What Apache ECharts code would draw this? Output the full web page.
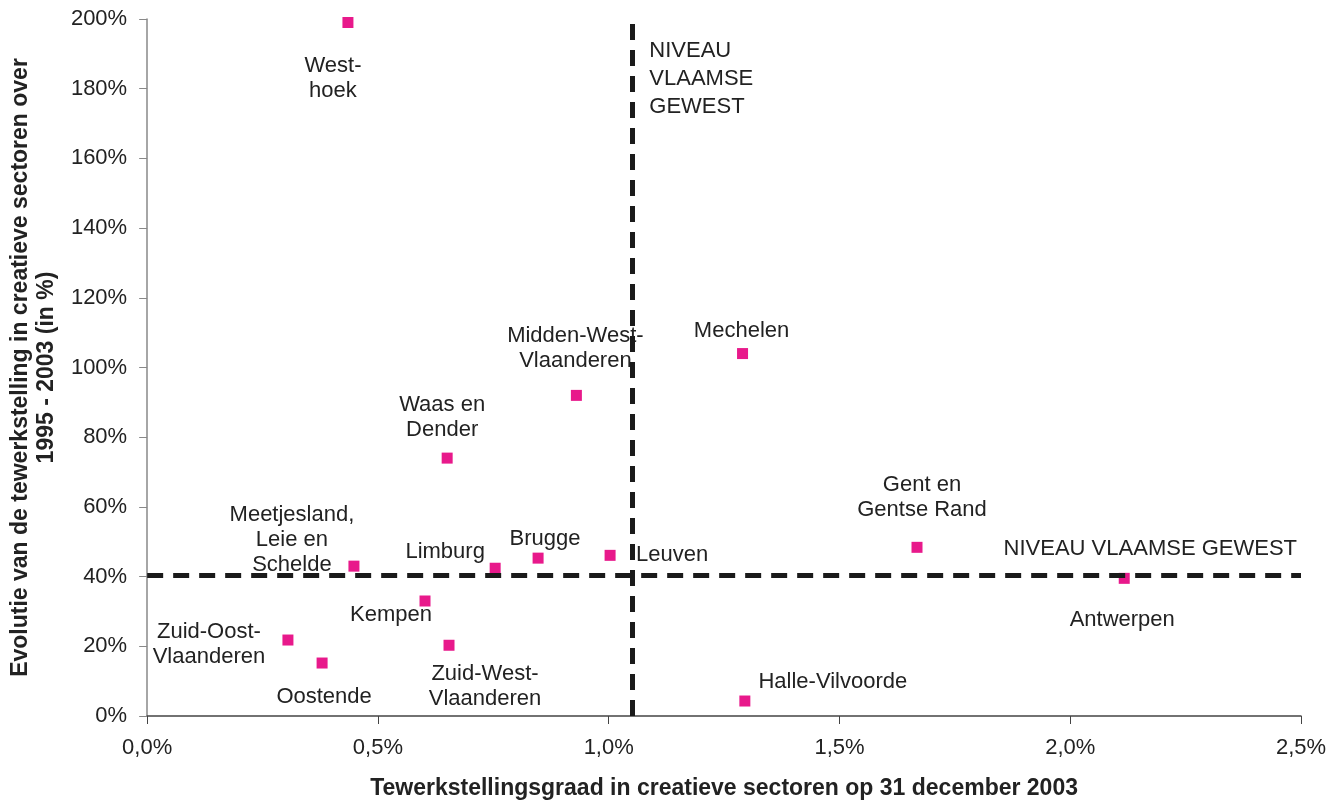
<!DOCTYPE html>
<html>
<head>
<meta charset="utf-8">
<script src="https://cdn.jsdelivr.net/npm/echarts@6/dist/echarts.min.js"></script>
<style>
  html, body { margin: 0; padding: 0; background: #fff; }
  #chart { width: 1342px; height: 805px; }
</style>
</head>
<body>
<div id="chart"></div>
<script>
// regio's
const regions = [
    'West-\nhoek', 'Waas en\nDender', 'Midden-West-\nVlaanderen', 'Mechelen',
    'Gent en\nGentse Rand', 'Antwerpen', 'Halle-Vilvoorde', 'Leuven', 'Brugge',
    'Limburg', 'Meetjesland,\nLeie en\nSchelde', 'Kempen', 'Zuid-West-\nVlaanderen',
    'Zuid-Oost-\nVlaanderen', 'Oostende'
];
// tewerkstellingsgraad 2003 (in %)
const employmentRate = [0.435, 0.65, 0.93, 1.29, 1.668, 2.117, 1.295, 1.003, 0.847, 0.754, 0.448, 0.602, 0.654, 0.305, 0.379];
// evolutie 1995 - 2003 (in %)
const growth = [199, 74, 92, 104, 48.4, 39.5, 4.3, 46.1, 45.3, 42.4, 43, 33, 20.3, 21.8, 15.2];

// niveau Vlaamse Gewest
const flemishRate = 1.049;
const flemishGrowth = 40.4;

const xTicks = { min: 0, max: 2.5, interval: 0.5 };
const yTicks = { min: 0, max: 200, interval: 20 };

// waar elk label t.o.v. het punt staat (px)
const labelOffsets = {
    'West-\nhoek': [-15, 56],
    'Waas en\nDender': [-5, -41],
    'Midden-West-\nVlaanderen': [-1, -47],
    'Mechelen': [-1, -23],
    'Gent en\nGentse Rand': [5, -50],
    'Antwerpen': [-2, 42],
    'Halle-Vilvoorde': [88, -19],
    'Leuven': [62, 0],
    'Brugge': [7, -19],
    'Limburg': [-50, -16],
    'Meetjesland,\nLeie en\nSchelde': [-62, -26],
    'Kempen': [-34, 14],
    'Zuid-West-\nVlaanderen': [36, 41],
    'Zuid-Oost-\nVlaanderen': [-79, 4],
    'Oostende': [2, 34]
};

const chart = echarts.init(document.getElementById('chart'));

const pointData = regions.map((name, i) => ({
    name: name,
    value: [employmentRate[i], growth[i]],
    label: { offset: labelOffsets[name] }
}));

const font = 'Liberation Sans, Arial, sans-serif';

const option = {
    backgroundColor: '#fff',
    animation: false,
    textStyle: { fontFamily: font, color: '#222' },
    grid: { left: 147, right: 41, top: 19, bottom: 88 },
    xAxis: {
        type: 'value',
        min: xTicks.min,
        max: xTicks.max,
        interval: xTicks.interval,
        name: 'Tewerkstellingsgraad in creatieve sectoren op 31 december 2003',
        nameLocation: 'middle',
        nameGap: 61,
        nameTextStyle: { fontSize: 23, fontWeight: 'bold', color: '#222', fontFamily: font },
        axisLine: { onZero: false, lineStyle: { color: '#444', width: 1.5 } },
        axisTick: { show: true, inside: false, length: 8, lineStyle: { color: '#444' } },
        axisLabel: {
            margin: 21, fontSize: 22, color: '#222',
            formatter: v => v.toFixed(1).replace('.', ',') + '%'
        },
        splitLine: { show: false }
    },
    yAxis: {
        type: 'value',
        min: yTicks.min,
        max: yTicks.max,
        interval: yTicks.interval,
        name: 'Evolutie van de tewerkstelling in creatieve sectoren over\n1995 - 2003 (in %)',
        nameLocation: 'middle',
        nameRotate: 90,
        nameGap: 84,
        nameTextStyle: { fontSize: 23, fontWeight: 'bold', color: '#222', lineHeight: 26, fontFamily: font },
        axisLine: { show: true, onZero: false, lineStyle: { color: '#888', width: 1.5 } },
        axisTick: { show: true, inside: false, length: 8, lineStyle: { color: '#888' } },
        axisLabel: { margin: 20, fontSize: 22, color: '#222', formatter: v => v + '%' },
        splitLine: { show: false }
    },
    series: [
        {
            name: 'Regio',
            type: 'scatter',
            symbol: 'rect',
            symbolSize: 11,
            itemStyle: { color: '#e8198b', opacity: 1 },
            data: pointData,
            label: {
                show: true,
                position: 'inside',
                formatter: p => p.name,
                fontSize: 22,
                lineHeight: 25,
                color: '#222',
                align: 'center',
                verticalAlign: 'middle'
            },
            markLine: {
                silent: true,
                symbol: 'none',
                lineStyle: { color: '#1a1a1a', width: 5, type: [16, 10], opacity: 1 },
                data: [
                    { xAxis: flemishRate, label: { show: false } },
                    {
                        yAxis: flemishGrowth,
                        label: {
                            show: true,
                            position: 'insideEndTop',
                            formatter: 'NIVEAU VLAAMSE GEWEST',
                            fontSize: 22,
                            color: '#222',
                            distance: [4, 15]
                        }
                    }
                ]
            },
            z: 3
        },
        {
            name: 'Niveau label',
            type: 'scatter',
            symbolSize: 0,
            silent: true,
            itemStyle: { opacity: 1 },
            data: [[flemishRate, yTicks.max]],
            label: {
                show: true,
                position: [18, 18],
                formatter: 'NIVEAU\nVLAAMSE\nGEWEST',
                fontSize: 22,
                lineHeight: 28,
                color: '#222',
                align: 'left',
                verticalAlign: 'top'
            }
        }
    ]
};

chart.setOption(option);
</script>
</body>
</html>
